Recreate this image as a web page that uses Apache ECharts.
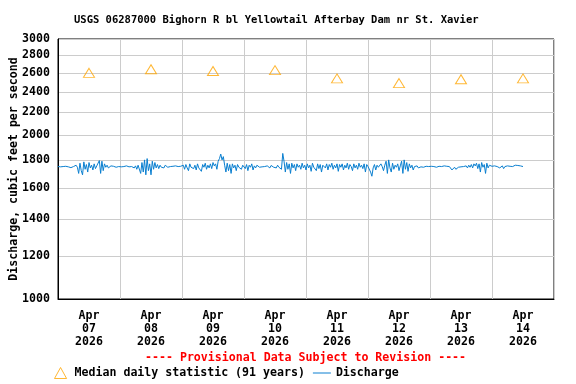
<!DOCTYPE html>
<html>
<head>
<meta charset="utf-8">
<script src="https://cdn.jsdelivr.net/npm/echarts@6/dist/echarts.min.js"></script>
<style>html,body{margin:0;padding:0;background:#fff}#c{width:576px;height:384px}</style>
</head>
<body>
<div id="c"></div>
<script>
// Discharge, 30-minute values starting Apr 07 2026 00:00
const dischargeDay1 = [1750,1752,1748,1755,1750,1745,1752,1760,1748,1750,1742,1755,1750,1738,1760,1745,
  1700,1775,1720,1690,1785,1730,1765,1710,1780,1740,1760,1725,1770,1735,1755,1745,
  1795,1700,1790,1720,1770,1745,1760,1740,1750,1755,1748,1752,1750,1745,1755,1750];
const dischargeDay2 = [1750,1748,1752,1750,1745,1755,1750,1748,1752,1750,1745,1740,1755,1730,1760,1750,
  1700,1780,1710,1800,1690,1810,1720,1770,1690,1790,1730,1780,1740,1765,1735,1760,
  1745,1755,1740,1760,1750,1745,1755,1750,1748,1752,1745,1755,1750,1750,1748,1752];
const dischargeDay3 = [1745,1760,1730,1765,1740,1720,1770,1745,1755,1735,1760,1725,1770,1740,1750,1715,
  1765,1745,1775,1730,1760,1740,1770,1735,1780,1755,1770,1730,1790,1810,1845,1800,
  1825,1760,1710,1775,1720,1765,1700,1770,1740,1760,1720,1765,1745,1755,1730,1760];
const dischargeDay4 = [1750,1735,1765,1720,1760,1745,1770,1725,1755,1740,1760,1750,1745,1755,1748,1752,
  1750,1745,1755,1750,1740,1758,1750,1745,1752,1740,1760,1745,1755,1730,1850,1790,
  1710,1780,1730,1770,1700,1775,1740,1765,1720,1770,1745,1760,1730,1775,1740,1760];
const dischargeDay5 = [1725,1770,1740,1760,1715,1775,1745,1755,1720,1770,1735,1765,1710,1760,1750,1740,
  1770,1725,1765,1745,1775,1730,1760,1740,1770,1715,1765,1745,1770,1725,1760,1740,
  1775,1730,1765,1750,1720,1770,1740,1760,1730,1775,1745,1760,1735,1770,1710,1765];
const dischargeDay6 = [1750,1760,1710,1680,1740,1765,1725,1760,1745,1735,1770,1750,1720,1760,1790,1700,
  1800,1740,1710,1775,1730,1760,1745,1770,1720,1755,1790,1700,1800,1730,1780,1715,
  1770,1740,1760,1725,1750,1745,1755,1740,1752,1748,1755,1745,1750,1752,1748,1750];
const dischargeDay7 = [1750,1752,1748,1750,1755,1745,1750,1752,1748,1750,1745,1755,1750,1752,1748,1750,
  1748,1725,1735,1745,1730,1740,1745,1735,1748,1740,1750,1745,1755,1740,1760,1745,
  1765,1740,1770,1755,1775,1735,1770,1710,1780,1745,1765,1700,1775,1740,1760,1750];
const dischargeDay8 = [1752,1748,1755,1745,1750,1752,1740,1748,1755,1735,1750,1748,1755,1760,1752,1758,
  1750,1755,1760,1752,1758,1765,1755,1760,1750];
const discharge = [].concat(dischargeDay1, dischargeDay2, dischargeDay3, dischargeDay4,
  dischargeDay5, dischargeDay6, dischargeDay7, dischargeDay8);

// Median daily statistic (91 years), one per day at noon
const medianValues = [2600, 2640, 2620, 2630, 2540, 2490, 2530, 2540];
const dayLabels = ['Apr\n07\n2026','Apr\n08\n2026','Apr\n09\n2026','Apr\n10\n2026',
  'Apr\n11\n2026','Apr\n12\n2026','Apr\n13\n2026','Apr\n14\n2026'];
const yTicks = [1000,1200,1400,1600,1800,2000,2200,2400,2600,2800,3000];

const DAY = 86400000;
const HALF_HOUR = 1800000;
const t0 = Date.UTC(2026, 3, 7);

const dischargeData = discharge.map((v, i) => [t0 + i * HALF_HOUR, v]);
const medianData = medianValues.map((v, i) => [t0 + (i + 0.5) * DAY, v]);
const labelTimes = dayLabels.map((_, i) => t0 + (i + 0.5) * DAY);

const FONT = 'DejaVu Sans Mono';
const ORANGE = '#FFA500';
const BLUE = '#0a7fd0';
const chart = echarts.init(document.getElementById('c'), null, {renderer: 'canvas'});
chart.setOption({
  animation: false,
  backgroundColor: '#fff',
  title: {
    text: 'USGS 06287000 Bighorn R bl Yellowtail Afterbay Dam nr St. Xavier',
    left: 69, top: 10,
    textStyle: {fontFamily: FONT, fontSize: 10.5, fontWeight: 'bold', color: '#000'}
  },
  grid: {left: 58, right: 22, top: 39, bottom: 85, show: true, borderColor: '#000', borderWidth: 1,
         containLabel: false, outerBoundsMode: 'none'},
  xAxis: {
    type: 'value',
    min: t0, max: t0 + 8 * DAY, interval: DAY,
    axisLine: {show: true, lineStyle: {color: '#000'}},
    axisTick: {show: false},
    splitLine: {show: true, lineStyle: {color: '#cccccc', width: 1}},
    axisLabel: {
      customValues: labelTimes,
      margin: 10,
      lineHeight: 13,
      fontFamily: FONT, fontSize: 11.6, fontWeight: 'bold', color: '#000',
      formatter: function (v) {
        const i = Math.round((v - t0) / DAY - 0.5);
        return dayLabels[i] || '';
      }
    }
  },
  yAxis: {
    type: 'log',
    logBase: 10,
    min: 1000, max: 3000,
    name: 'Discharge, cubic feet per second',
    nameLocation: 'middle',
    nameGap: 38,
    nameMoveOverlap: false,
    nameRotate: 90,
    nameTextStyle: {fontFamily: FONT, fontSize: 11.6, fontWeight: 'bold', color: '#000'},
    axisLine: {show: true, lineStyle: {color: '#000'}},
    axisTick: {show: false, customValues: yTicks},
    splitLine: {show: true, lineStyle: {color: '#cccccc', width: 1}},
    axisLabel: {
      customValues: yTicks,
      margin: 8,
      fontFamily: FONT, fontSize: 11.6, fontWeight: 'bold', color: '#000',
      formatter: function (v) { return String(Math.round(v)); }
    }
  },
  legend: {
    left: 47, top: 360,
    itemWidth: 18, itemHeight: 11, itemGap: 8,
    textStyle: {fontFamily: FONT, fontSize: 11.6, fontWeight: 'bold', color: '#000'},
    data: [
      {name: 'Median daily statistic (91 years)', icon: 'path://M5.5,0L11,10L0,10Z',
       itemStyle: {color: 'none', borderColor: ORANGE, borderWidth: 1}},
      {name: 'Discharge', icon: 'path://M0,0H18V1H0Z',
       itemStyle: {color: BLUE, borderWidth: 0}}
    ]
  },
  graphic: [{
    type: 'text', left: 145, top: 352,
    style: {text: '---- Provisional Data Subject to Revision ----',
      font: 'bold 11.6px "DejaVu Sans Mono"', fill: '#FF0000'}
  }],
  series: [
    {
      name: 'Discharge', type: 'line', data: dischargeData,
      showSymbol: false, symbol: 'none',
      lineStyle: {color: BLUE, width: 1},
      itemStyle: {color: BLUE},
      z: 3
    },
    {
      name: 'Median daily statistic (91 years)', type: 'scatter', data: medianData,
      symbol: 'triangle', symbolSize: [11, 9],
      itemStyle: {color: 'none', borderColor: ORANGE, borderWidth: 1},
      z: 4
    }
  ]
});
</script>
</body>
</html>
